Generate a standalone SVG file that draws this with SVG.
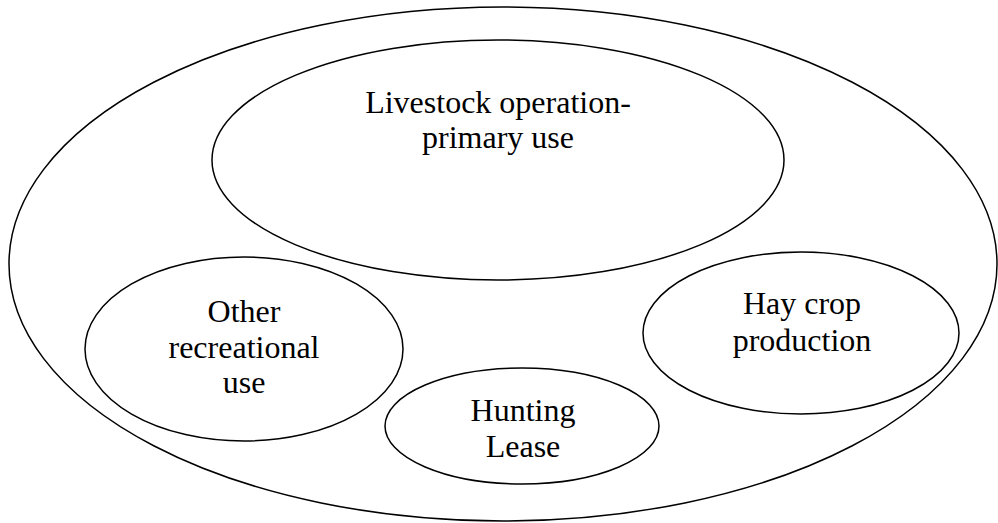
<svg xmlns="http://www.w3.org/2000/svg" width="998" height="523" viewBox="0 0 998 523">
<style>
.e{fill:none;stroke:#000;stroke-width:1.5}
text{font-family:"Liberation Serif","Times New Roman",serif;font-size:32px;fill:#000;text-anchor:middle}
</style>
<rect width="998" height="523" fill="#fff"/>
<g id="outer"><ellipse class="e" cx="503" cy="264" rx="494" ry="257"/></g>
<g id="livestock"><ellipse class="e" cx="498" cy="160" rx="286" ry="120"/>
<text x="498" y="113">Livestock operation-</text><text x="498" y="148">primary use</text></g>
<g id="other"><ellipse class="e" cx="244" cy="349" rx="159" ry="92"/>
<text x="244" y="322">Other</text><text x="244" y="358">recreational</text><text x="244" y="393">use</text></g>
<g id="hunting"><ellipse class="e" cx="522" cy="426" rx="137" ry="58"/>
<text x="523" y="421">Hunting</text><text x="523" y="457">Lease</text></g>
<g id="hay"><ellipse class="e" cx="801" cy="333" rx="158" ry="81"/>
<text x="802" y="314">Hay crop</text><text x="802" y="351">production</text></g>
<g id="connectors"/>
</svg>
